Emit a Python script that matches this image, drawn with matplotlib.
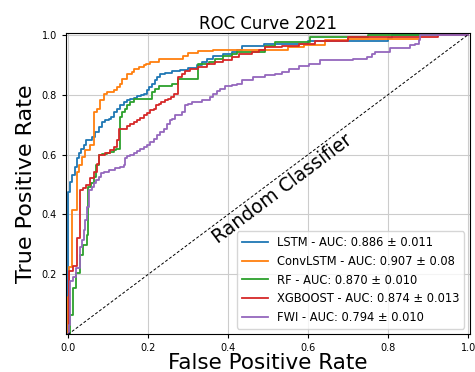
import matplotlib.pyplot as plt

# ROC points (fpr, tpr), drawn as steps
lstm_fpr = [0, 0, 0.006, 0.01, 0.017, 0.0225, 0.028, 0.033, 0.039, 0.045, 0.052, 0.06, 0.068,
            0.077, 0.085, 0.093, 0.102, 0.108, 0.114, 0.1225, 0.131, 0.139, 0.1475, 0.156,
            0.164, 0.1725, 0.183, 0.189, 0.1975, 0.203, 0.21, 0.217, 0.2225, 0.231, 0.243,
            0.26, 0.28, 0.301, 0.322, 0.334, 0.347, 0.363, 0.388, 0.409, 0.422, 0.434, 0.49,
            0.6, 0.8, 0.81, 1.0]
lstm_tpr = [0, 0.476, 0.509, 0.532, 0.559, 0.587, 0.606, 0.617, 0.631, 0.648, 0.648, 0.659, 0.675,
            0.692, 0.709, 0.714, 0.72, 0.725, 0.742, 0.753, 0.764, 0.775, 0.783, 0.786,
            0.79, 0.794, 0.797, 0.803, 0.814, 0.825, 0.836, 0.847, 0.86, 0.869, 0.872,
            0.877, 0.883, 0.889, 0.897, 0.908, 0.919, 0.93, 0.936, 0.941, 0.947, 0.963, 0.97,
            0.98, 0.99, 1.0, 1.0]

convlstm_fpr = [0, 0, 0.003, 0.01, 0.0225, 0.0275, 0.034, 0.0425, 0.055, 0.064, 0.0725, 0.081,
                0.089, 0.0975, 0.114, 0.1225, 0.131, 0.135, 0.1475, 0.16, 0.164, 0.177, 0.189,
                0.195, 0.206, 0.227, 0.288, 0.30, 0.326, 0.363, 0.55, 0.59, 0.6425, 0.70, 0.88, 1.0]
convlstm_tpr = [0, 0.126, 0.226, 0.415, 0.543, 0.565, 0.592, 0.614, 0.631, 0.742, 0.753, 0.781,
                0.803, 0.808, 0.814, 0.825, 0.836, 0.853, 0.869, 0.875, 0.886, 0.891, 0.897,
                0.903, 0.91, 0.919, 0.93, 0.938, 0.944, 0.949, 0.958, 0.966, 0.981, 0.987, 1.0, 1.0]

rf_fpr = [0, 0.005, 0.012, 0.02, 0.03, 0.038, 0.048, 0.051, 0.058, 0.064, 0.07, 0.077, 0.085,
          0.0975, 0.106, 0.114, 0.12, 0.131, 0.135, 0.142, 0.1475, 0.155, 0.165, 0.21, 0.218,
          0.227, 0.26, 0.276, 0.326, 0.351, 0.3675, 0.388, 0.409, 0.422, 0.4925, 0.5175, 0.605,
          0.75, 1.0]
rf_tpr = [0, 0.066, 0.156, 0.206, 0.266, 0.299, 0.332, 0.493, 0.504, 0.526, 0.565, 0.598, 0.602,
          0.604, 0.609, 0.615, 0.62, 0.725, 0.742, 0.753, 0.764, 0.775, 0.786, 0.808, 0.819,
          0.83, 0.836, 0.853, 0.902, 0.908, 0.919, 0.927, 0.934, 0.941, 0.963, 0.974, 0.993,
          1.0, 1.0]

xgb_fpr = [0, 0.0025, 0.013, 0.023, 0.031, 0.037, 0.045, 0.056, 0.064, 0.0725, 0.077, 0.093,
           0.106, 0.114, 0.1225, 0.127, 0.1475, 0.156, 0.164, 0.1725, 0.181, 0.189, 0.1975,
           0.206, 0.214, 0.22, 0.227, 0.233, 0.243, 0.251, 0.2575, 0.266, 0.274, 0.284, 0.2925,
           0.305, 0.326, 0.347, 0.3675, 0.388, 0.409, 0.426, 0.459, 0.476, 0.4925, 0.534, 0.576,
           0.6175, 0.7, 0.925, 1.0]
xgb_tpr = [0, 0.21, 0.227, 0.32, 0.482, 0.487, 0.498, 0.521, 0.543, 0.57, 0.598, 0.604,
           0.615, 0.626, 0.648, 0.686, 0.694, 0.703, 0.709, 0.714, 0.723, 0.731, 0.739,
           0.748, 0.753, 0.764, 0.77, 0.775, 0.781, 0.786, 0.792, 0.803, 0.858, 0.869, 0.88,
           0.886, 0.891, 0.902, 0.908, 0.916, 0.925, 0.936, 0.941, 0.947, 0.96, 0.963, 0.969,
           0.978, 0.992, 1.0, 1.0]

fwi_fpr = [0, 0.002, 0.005, 0.012, 0.02, 0.03, 0.035, 0.039, 0.043, 0.0475, 0.052, 0.053, 0.06,
           0.066, 0.07, 0.077, 0.0825, 0.091, 0.103, 0.118, 0.131, 0.139, 0.143, 0.1475, 0.156,
           0.164, 0.1725, 0.181, 0.189, 0.1975, 0.206, 0.214, 0.2225, 0.231, 0.239, 0.2475,
           0.256, 0.259, 0.2675, 0.284, 0.2925, 0.301, 0.309, 0.334, 0.355, 0.363, 0.372, 0.38,
           0.3925, 0.409, 0.422, 0.434, 0.463, 0.4925, 0.5175, 0.534, 0.551, 0.576, 0.601, 0.63,
           0.713, 0.747, 0.759, 0.7675, 0.805, 0.855, 0.8675, 0.876, 0.88, 0.926, 1.0]
fwi_tpr = [0, 0.03, 0.177, 0.19, 0.222, 0.29, 0.316, 0.349, 0.382, 0.426, 0.459, 0.482, 0.493,
           0.504, 0.515, 0.526, 0.537, 0.543, 0.548, 0.554, 0.559, 0.565, 0.59, 0.595, 0.60,
           0.605, 0.612, 0.62, 0.625, 0.631, 0.642, 0.653, 0.664, 0.675, 0.686, 0.703,
           0.714, 0.72, 0.731, 0.742, 0.764, 0.77, 0.775, 0.781, 0.792, 0.803, 0.811, 0.819,
           0.827, 0.831, 0.836, 0.847, 0.858, 0.864, 0.869, 0.875, 0.886, 0.895, 0.902, 0.914,
           0.919, 0.926, 0.934, 0.943, 0.956, 0.964, 0.97, 0.981, 0.998, 1.0, 1.0]

labels = ['LSTM - AUC: 0.886 ± 0.011',
          'ConvLSTM - AUC: 0.907 ± 0.08',
          'RF - AUC: 0.870 ± 0.010',
          'XGBOOST - AUC: 0.874 ± 0.013',
          'FWI - AUC: 0.794 ± 0.010']

curves = [(lstm_fpr, lstm_tpr), (convlstm_fpr, convlstm_tpr), (rf_fpr, rf_tpr),
          (xgb_fpr, xgb_tpr), (fwi_fpr, fwi_tpr)]

fig = plt.figure(figsize=(4.75, 3.72), dpi=100)
ax = fig.add_axes([0.139, 0.101, 0.851, 0.810])

for (fpr, tpr), lab in zip(curves, labels):
    ax.plot(fpr, tpr, drawstyle='steps-post', lw=1.3, label=lab)

ax.plot([0, 1], [0, 1], 'k--', lw=0.7, dashes=(3, 2))
ax.text(0.535, 0.485, 'Random Classifier', rotation=36.9, rotation_mode='anchor',
        ha='center', va='center', fontsize=13.5)

ax.set_xlim(-0.005, 1.005)
ax.set_ylim(0, 1.005)
ax.set_xticks([0.0, 0.2, 0.4, 0.6, 0.8, 1.0])
ax.set_yticks([0.2, 0.4, 0.6, 0.8, 1.0])
ax.tick_params(labelsize=7, length=3)
ax.grid(True, color='#cccccc', lw=0.8)
ax.set_axisbelow(True)

ax.set_title('ROC Curve 2021', fontsize=12, pad=3)
ax.set_xlabel('False Positive Rate', fontsize=15.5, labelpad=0)
ax.set_ylabel('True Positive Rate', fontsize=16, labelpad=4)
ax.legend(loc='lower right', fontsize=8.3, handlelength=2.3, borderaxespad=0.5)

fig.savefig('out.png', dpi=100)
